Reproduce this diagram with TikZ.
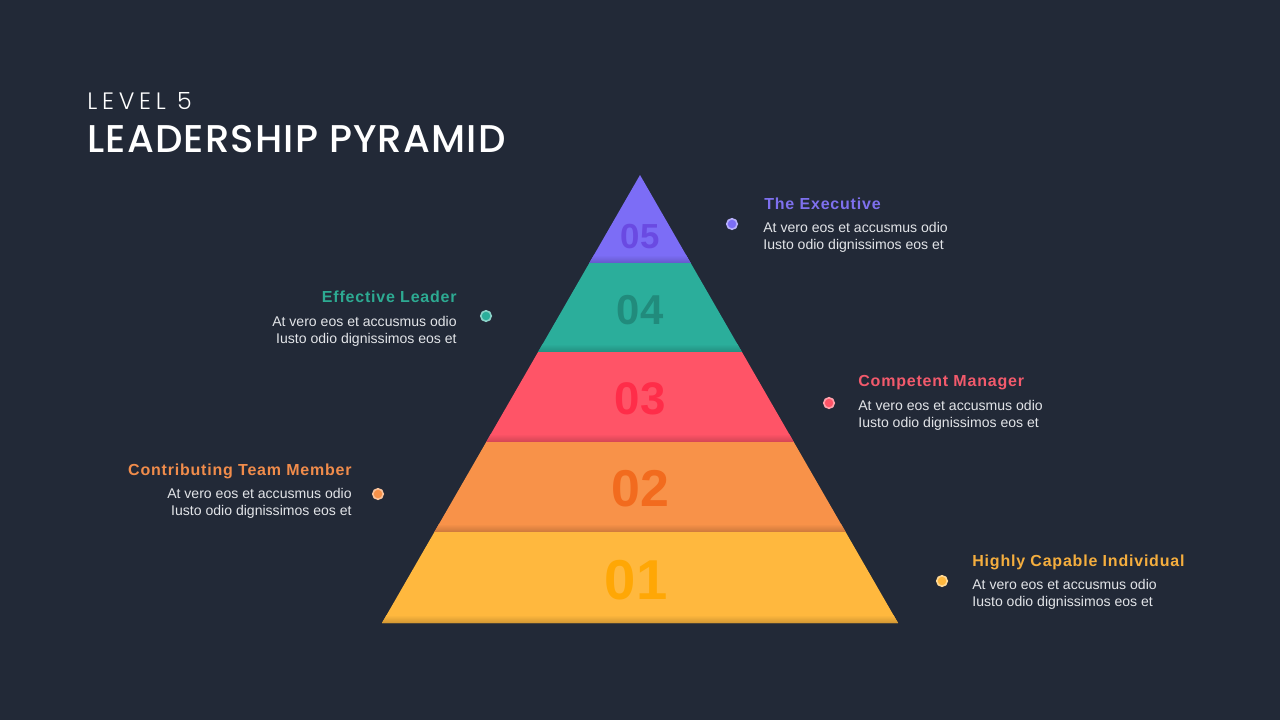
\documentclass[tikz,border=0pt]{standalone}
\usepackage{fontspec}
\setmainfont{Liberation Sans}
\newfontfamily\titlefont[LetterSpace=3]{Poppins Medium}
\newfontfamily\levelfont[LetterSpace=20]{Poppins Light}
\newfontfamily\headfont[LetterSpace=5]{Liberation Sans}
\usetikzlibrary{positioning, calc}

% slide colours
\definecolor{bgdark}{HTML}{222937}
\definecolor{bodygray}{HTML}{E2E4E8}
\definecolor{lvlfive}{HTML}{7C6DF6}
\definecolor{lvlfour}{HTML}{2BAE9B}
\definecolor{lvlthree}{HTML}{FF5467}
\definecolor{lvltwo}{HTML}{F89249}
\definecolor{lvlone}{HTML}{FFB83E}
\definecolor{numfive}{HTML}{6A4AE2}
\definecolor{numfour}{HTML}{218B7C}
\definecolor{numthree}{HTML}{FF2D49}
\definecolor{numtwo}{HTML}{F26B1E}
\definecolor{numone}{HTML}{FFA705}
\definecolor{headfive}{HTML}{7E70EE}
\definecolor{headfour}{HTML}{2DAA92}
\definecolor{headthree}{HTML}{F25A6C}
\definecolor{headtwo}{HTML}{F18C4B}
\definecolor{headone}{HTML}{F5AE3E}

\begin{document}
\begin{tikzpicture}[
    x=0.02cm, y=-0.02cm,
    num/.style={
        font=\bfseries, inner sep=0pt
    },
    head/.style={
        font=\headfont\bfseries\fontsize{9.1}{11}\selectfont,
        inner sep=0pt
    },
    body/.style={
        font=\fontsize{8}{9.7}\selectfont,
        text=bodygray, inner sep=0pt
    },
    dot/.style={
        circle, minimum size=0.21cm, inner sep=0pt,
        line width=0.9pt
    }
]

% Background
\fill[bgdark] (0,0) rectangle (1280,720);
\useasboundingbox (0,0) rectangle (1280,720);

% Title
\node[anchor=base west, inner sep=0pt, text=white,
      font=\levelfont\fontsize{13.5}{16}\selectfont] (level) at (87,109) {LEVEL 5};
\node[anchor=base west, inner sep=0pt, text=white,
      font=\titlefont\fontsize{22}{26}\selectfont] (title) at (87,152) {LEADERSHIP PYRAMID};

% Pyramid bands
\foreach \ytop/\ybot/\col in {175/263/lvlfive, 263/352/lvlfour, 352/442/lvlthree, 442/532/lvltwo, 532/623/lvlone} {
    \pgfmathsetmacro\wt{(\ytop-175)/448*258}
    \pgfmathsetmacro\wm{(\ybot-183)/448*258}
    \pgfmathsetmacro\wb{(\ybot-175)/448*258}
    \fill[\col] (640-\wt,\ytop) -- (640+\wt,\ytop) -- (640+\wb,\ybot) -- (640-\wb,\ybot) -- cycle;
    \shade[top color=\col, bottom color=\col!82!black]
        (640-\wm,\ybot-8) -- (640+\wm,\ybot-8) -- (640+\wb,\ybot) -- (640-\wb,\ybot) -- cycle;
}

% Numbers
\node[num, text=numfive, font=\bfseries\fontsize{19.8}{22}\selectfont] (n5) at (640,237) {05};
\node[num, text=numfour, font=\bfseries\fontsize{23.8}{26}\selectfont] (n4) at (640,310) {04};
\node[num, text=numthree, font=\bfseries\fontsize{26}{28}\selectfont] (n3) at (640,399) {03};
\node[num, text=numtwo, font=\bfseries\fontsize{29.5}{32}\selectfont] (n2) at (640,489) {02};
\node[num, text=numone, font=\bfseries\fontsize{32}{35}\selectfont] (n1) at (636,580) {01};

% Level 5
\node[dot, fill=lvlfive, draw=lvlfive!55!white] (dot5) at (732,224) {};
\node[head, text=headfive, anchor=base west] (head5) at (764,209) {The Executive};
\node[body, align=left, anchor=north west] (body5) at (763,222)
    {At vero eos et accusmus odio\\Iusto odio dignissimos eos et};

% Level 4
\node[dot, fill=lvlfour, draw=lvlfour!55!white] (dot4) at (486,316) {};
\node[head, text=headfour, anchor=base east] (head4) at (457,302) {Effective Leader};
\node[body, align=right, anchor=north east] (body4) at (457,316)
    {At vero eos et accusmus odio\\Iusto odio dignissimos eos et};

% Level 3
\node[dot, fill=lvlthree, draw=lvlthree!55!white] (dot3) at (829,403) {};
\node[head, text=headthree, anchor=base west] (head3) at (858,386) {Competent Manager};
\node[body, align=left, anchor=north west] (body3) at (858,400)
    {At vero eos et accusmus odio\\Iusto odio dignissimos eos et};

% Level 2
\node[dot, fill=lvltwo, draw=lvltwo!55!white] (dot2) at (378,494) {};
\node[head, text=headtwo, anchor=base east] (head2) at (352,475) {Contributing Team Member};
\node[body, align=right, anchor=north east] (body2) at (352,488)
    {At vero eos et accusmus odio\\Iusto odio dignissimos eos et};

% Level 1
\node[dot, fill=lvlone, draw=lvlone!55!white] (dot1) at (942,581) {};
\node[head, text=headone, anchor=base west] (head1) at (972,566) {Highly Capable Individual};
\node[body, align=left, anchor=north west] (body1) at (972,579)
    {At vero eos et accusmus odio\\Iusto odio dignissimos eos et};

\end{tikzpicture}
\end{document}
